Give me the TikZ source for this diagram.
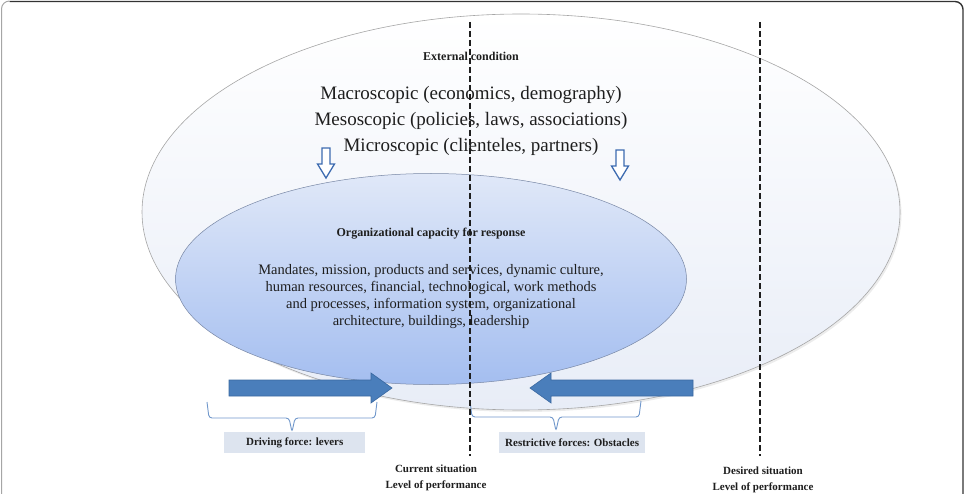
\documentclass[tikz,border=0pt]{standalone}
\usepackage{fontspec}
\setmainfont{Liberation Serif}
\usetikzlibrary{shadows,shapes.geometric}
\definecolor{arrowblue}{HTML}{4A7EBB}
\definecolor{arrowedge}{HTML}{3A68A0}
\definecolor{hollowblue}{HTML}{3D6BB0}
\definecolor{bracecol}{HTML}{7097CB}
\definecolor{boxfill}{HTML}{DDE4EF}
\definecolor{txt}{HTML}{1E1E1E}
\tikzset{
  outerell/.style={ellipse, draw=gray!70, line width=0.6pt, top color=white, bottom color={rgb,255:red,232;green,237;blue,247}, drop shadow={shadow xshift=1.5pt, shadow yshift=-2pt, fill=gray!30}},
  innerell/.style={ellipse, draw={rgb,255:red,120;green,135;blue,165}, line width=0.5pt, top color={rgb,255:red,224;green,232;blue,248}, bottom color={rgb,255:red,164;green,190;blue,240}},
  headtxt/.style={font=\bfseries\fontsize{12}{14}\selectfont, text=txt},
  bigtxt/.style={align=center, font=\fontsize{19}{26}\selectfont, text=txt},
  bodytxt/.style={align=center, font=\fontsize{14.5}{17}\selectfont, text=txt},
  labelbox/.style={fill=boxfill, font=\bfseries\fontsize{11}{13}\selectfont, text=txt, minimum height=21pt, anchor=west, inner xsep=6pt},
  sittxt/.style={align=center, font=\bfseries\fontsize{11}{16}\selectfont, text=txt},
  vdash/.style={line width=1.8pt, dash pattern=on 6pt off 3pt, txt},
  bigarrow/.style={fill=arrowblue, draw=arrowedge, line width=0.6pt},
  hollow/.style={draw=hollowblue, line width=1.3pt, fill=white},
  bracestyle/.style={draw=bracecol, line width=0.9pt, rounded corners=3pt}
}
\begin{document}
\begin{tikzpicture}[x=1pt,y=-1pt]
\useasboundingbox (0,0) rectangle (965,494);
% frame
\draw[gray!70, line width=1pt] (1.5,500) -- (1.5,9) arc[start angle=180, end angle=270, radius=8];
\draw[black!80, line width=1.4pt] (9.5,1.5) -- (955,1.5) arc[start angle=-90, end angle=0, radius=8] -- (963,500);

% ellipses
\node[outerell, minimum width=758pt, minimum height=396pt] (outer) at (521,212) {};
\node[innerell, minimum width=511pt, minimum height=211pt] (inner) at (431,279) {};

% texts
\node[headtxt] (ext) at (471,56) {External condition};
\node[bigtxt] (levels) at (471,121) {Macroscopic (economics, demography)\\Mesoscopic (policies, laws, associations)\\Microscopic (clienteles, partners)};
\node[headtxt] (org) at (431,234) {Organizational capacity for response};
\node[bodytxt] (orgbody) at (431,297) {Mandates, mission, products and services, dynamic culture,\\human resources, financial, technological, work methods\\and processes, information system, organizational\\architecture, buildings, leadership};

% hollow arrows
\draw[hollow] (322,148) -- (330,148) -- (330,164) -- (334.5,164) -- (326,178) -- (317.5,164) -- (322,164) -- cycle;
\draw[hollow] (616,150) -- (624,150) -- (624,166) -- (628.5,166) -- (620,180) -- (611.5,166) -- (616,166) -- cycle;

% big arrows
\coordinate (la) at (229,388);
\coordinate (ra) at (693,388);
\draw[bigarrow] (la) ++(0,-8) -- ++(142,0) -- ++(0,-7) -- (392,388) -- (371,403) -- ++(0,-7) -- ++(-142,0) -- cycle;
\draw[bigarrow] (ra) ++(0,-8) -- ++(-142,0) -- ++(0,-7) -- (530,388) -- (551,403) -- ++(0,-7) -- ++(142,0) -- cycle;

% braces
\coordinate (lb1) at (207,402);
\coordinate (lbt) at (292,432);
\coordinate (lb2) at (377,402);
\coordinate (rb1) at (470,401);
\coordinate (rbt) at (556,431);
\coordinate (rb2) at (641,401);
\draw[bracestyle] (lb1) -- (209,418) -- (289,418) -- (lbt) -- (295,418) -- (375,418) -- (lb2);
\draw[bracestyle] (rb1) -- (472,417) -- (553,417) -- (rbt) -- (559,417) -- (639,417) -- (rb2);

% label boxes
\node[labelbox, minimum width=141pt] (drv) at (224,442.5) {Driving force: levers};
\node[labelbox, minimum width=145pt] (rst) at (499,442.5) {Restrictive forces: Obstacles};

% situations
\node[sittxt] (cur) at (436,478) {Current situation\\Level of performance};
\node[sittxt] (des) at (763,480) {Desired situation\\Level of performance};

% dashed lines
\coordinate (c1) at (470,22);
\coordinate (c2) at (470,456);
\coordinate (d1) at (760,22);
\coordinate (d2) at (760,456);
\draw[vdash] (c1) -- (c2);
\draw[vdash] (d1) -- (d2);
\end{tikzpicture}
\end{document}
